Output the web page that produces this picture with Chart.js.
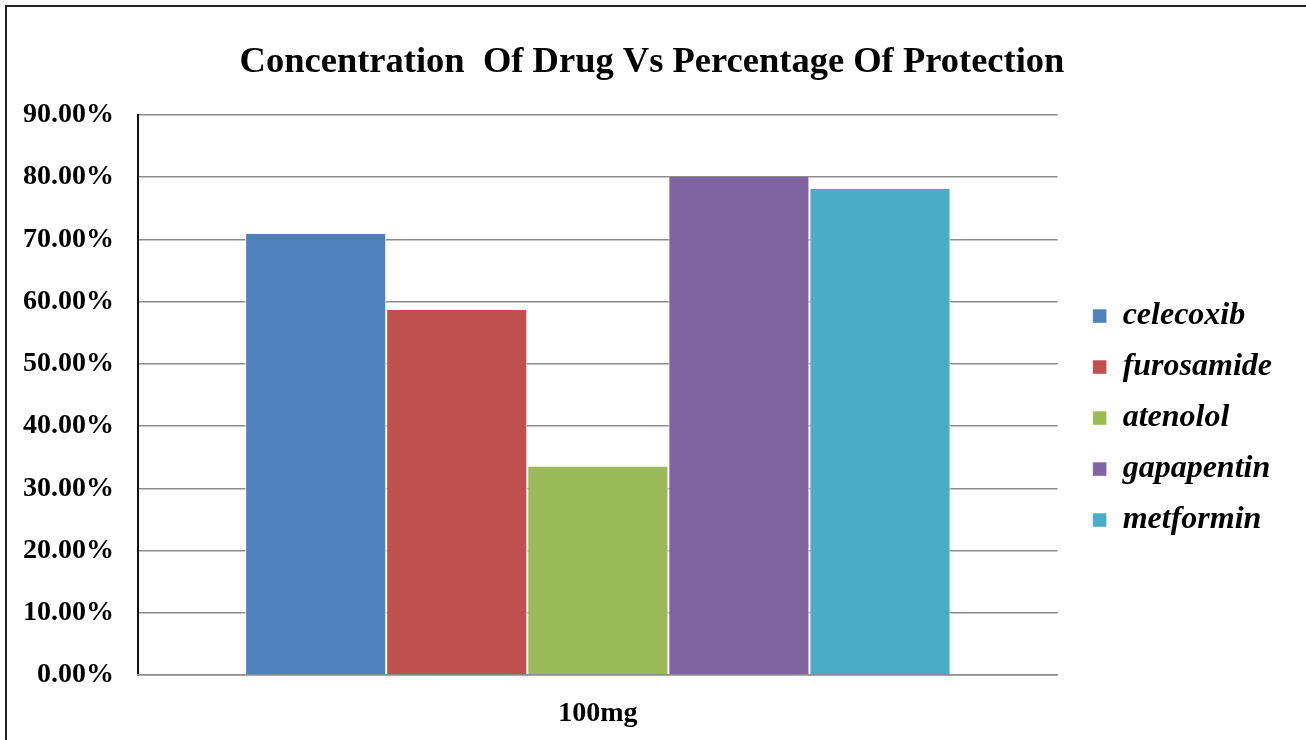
<!DOCTYPE html>
<html>
<head>
<meta charset="utf-8">
<script src="https://cdn.jsdelivr.net/npm/chart.js@4.4.1/dist/chart.umd.min.js"></script>
<style>
  body { margin: 0; background: #fff; }
  #wrap { position: relative; width: 1306px; height: 740px; }
  #frame { position: absolute; left: 5px; top: 5px; right: -10px; bottom: -10px;
           border-left: 2px solid #222; border-top: 2px solid #222; pointer-events: none; }
</style>
</head>
<body>
<div id="wrap">
  <canvas id="barChart" width="1306" height="740"></canvas>
  <div id="frame"></div>
</div>
<script>
// Dados do gráfico
const categorias = ['100mg'];
const drogas = ['celecoxib', 'furosamide', 'atenolol', 'gapapentin', 'metformin'];
const valores = [70.9, 58.7, 33.5, 80.0, 78.1];
const cores = ['#4F81BD', '#C0504D', '#9BBB59', '#8064A2', '#4BACC6'];
const yTicks = [0, 10, 20, 30, 40, 50, 60, 70, 80, 90];

const fonte = "'Liberation Serif', 'Times New Roman', serif";

// um dataset por droga
const datasets = drogas.map((nome, i) => ({
    label: nome,
    data: [valores[i]],
    backgroundColor: cores[i],
    borderColor: '#ffffff',
    borderWidth: { left: 1, right: 1, top: 0, bottom: 0 }
}));

const ctx = document.getElementById('barChart').getContext('2d');
new Chart(ctx, {
    type: 'bar',
    data: { labels: categorias, datasets: datasets },
    options: {
        responsive: false,
        animation: false,
        layout: { padding: { left: 22, right: 24, top: 41, bottom: 0 } },
        datasets: { bar: { categoryPercentage: 0.767, barPercentage: 1.0 } },
        scales: {
            y: {
                min: 0,
                max: 90,
                afterBuildTicks: (axis) => { axis.ticks = yTicks.map(v => ({ value: v })); },
                afterFit: (axis) => { axis.width = 116; },
                ticks: {
                    color: '#000',
                    font: { family: fonte, size: 28, weight: 'bold' },
                    padding: 24,
                    callback: (v) => v.toFixed(2) + '%'
                },
                grid: { color: '#8c8c8c', lineWidth: 1.5, drawTicks: false },
                border: { color: '#111', width: 2 }
            },
            // eixo vazio só para dar espaço entre o gráfico e a legenda
            espaco: {
                type: 'linear',
                position: 'right',
                grid: { display: false, drawTicks: false },
                ticks: { display: false },
                border: { display: false },
                afterFit: (axis) => { axis.width = 16; }
            },
            x: {
                afterFit: (axis) => { axis.height = 65; },
                ticks: {
                    color: '#000',
                    font: { family: fonte, size: 28, weight: 'bold' },
                    padding: 22
                },
                grid: { display: false, drawTicks: false },
                border: { color: '#8c8c8c', width: 1.5 }
            }
        },
        plugins: {
            title: {
                display: true,
                text: 'Concentration  Of Drug Vs Percentage Of Protection',
                color: '#000',
                font: { family: fonte, size: 36.5, weight: 'bold' },
                padding: { top: 0, bottom: 30 }
            },
            legend: {
                position: 'right',
                title: { display: true, text: ' ', font: { size: 46 }, padding: 0 },
                labels: {
                    color: '#000',
                    font: { family: fonte, size: 32, weight: 'bold', style: 'italic' },
                    boxWidth: 14,
                    boxHeight: 14,
                    padding: 19
                }
            },
            tooltip: { enabled: false }
        }
    }
});
</script>
</body>
</html>
